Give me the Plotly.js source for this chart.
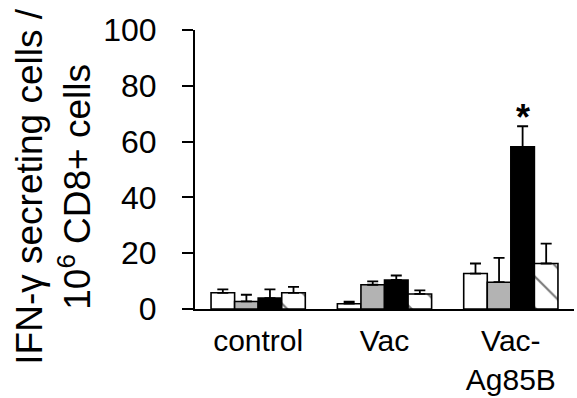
<!DOCTYPE html>
<html>
<head>
<meta charset="utf-8">
<script src="https://cdn.plot.ly/plotly-3.0.1.min.js"></script>
<style>html,body{margin:0;padding:0;background:#fff}#chart{width:577px;height:398px}</style>
</head>
<body>
<div id="chart"></div>
<script>
const categories = ["control", "Vac", "Vac-<br>Ag85B"];
const seriesNames = ["white", "gray", "black", "hatched"];
const valuesWhite = [5.8, 1.9, 12.7];
const errWhite = [1.2, 0.7, 3.6];
const valuesGray = [2.7, 8.7, 9.6];
const errGray = [2.4, 1.2, 8.7];
const valuesBlack = [3.9, 10.4, 58.1];
const errBlack = [3.1, 1.6, 7.4];
const valuesHatched = [5.8, 5.4, 16.3];
const errHatched = [2.1, 1.3, 7.1];
const yTicks = [0, 20, 40, 60, 80, 100];

const FONT = "Liberation Sans, Arial, sans-serif";
const zeros = [0, 0, 0];
function bar(name, y, err, fill, pattern) {
  const t = {
    type: "bar", name: name, x: categories, y: y,
    marker: {color: fill, line: {color: "#000", width: 1.6}},
    error_y: {type: "data", symmetric: false, array: err, arrayminus: zeros,
              color: "#000", thickness: 1.8, width: 5.5},
    hoverinfo: "skip"
  };
  if (pattern) t.marker.pattern = pattern;
  return t;
}
const data = [
  bar(seriesNames[0], valuesWhite, errWhite, "#ffffff"),
  bar(seriesNames[1], valuesGray, errGray, "#b3b3b3"),
  bar(seriesNames[2], valuesBlack, errBlack, "#000000"),
  bar(seriesNames[3], valuesHatched, errHatched, "#ffffff",
      {shape: "\\", fgcolor: "#7a7a7a", bgcolor: "#ffffff", size: 22, solidity: 0.1})
];
const layout = {
  width: 577, height: 398,
  margin: {l: 195, r: 3, t: 30, b: 88.5, pad: 0},
  paper_bgcolor: "#fff", plot_bgcolor: "#fff",
  showlegend: false,
  barmode: "group", bargap: 0.254, bargroupgap: 0,
  font: {family: FONT, color: "#000", size: 28},
  xaxis: {
    type: "category", range: [-0.5, 2.5],
    showline: true, linecolor: "#000", linewidth: 2,
    ticks: "", showgrid: false, zeroline: false,
    ticklabelstandoff: 4,
    tickfont: {family: FONT, size: 30, color: "#000"}
  },
  yaxis: {
    range: [0, 100], tickvals: yTicks, ticktext: yTicks.map(String),
    showline: true, linecolor: "#000", linewidth: 2,
    ticks: "outside", ticklen: 11, tickwidth: 2, tickcolor: "#000",
    ticklabelstandoff: 19,
    showgrid: false, zeroline: false,
    tickfont: {family: FONT, size: 32, color: "#000"}
  },
  annotations: [
    {x: 2, y: 68.5, xref: "x", yref: "y", xshift: 12, text: "<b>*</b>", showarrow: false,
     xanchor: "center", yanchor: "middle", font: {family: FONT, size: 36, color: "#000"}},
    {x: 54, y: 187, xref: "paper", yref: "paper", text: "IFN-γ secreting cells /<br>10<sup>6</sup> CD8+ cells",
     showarrow: false, textangle: -90, xanchor: "center", yanchor: "middle",
     font: {family: FONT, size: 37, color: "#000"}}
  ]
};
// convert pixel position of the y title annotation to paper coords
(function () {
  const pw = 577 - 195 - 3, ph = 398 - 30 - 88.5;
  const a = layout.annotations[1];
  a.x = (a.x - 195) / pw;
  a.y = 1 - (a.y - 30) / ph;
})();
Plotly.newPlot("chart", data, layout, {staticPlot: true});
</script>
</body>
</html>
